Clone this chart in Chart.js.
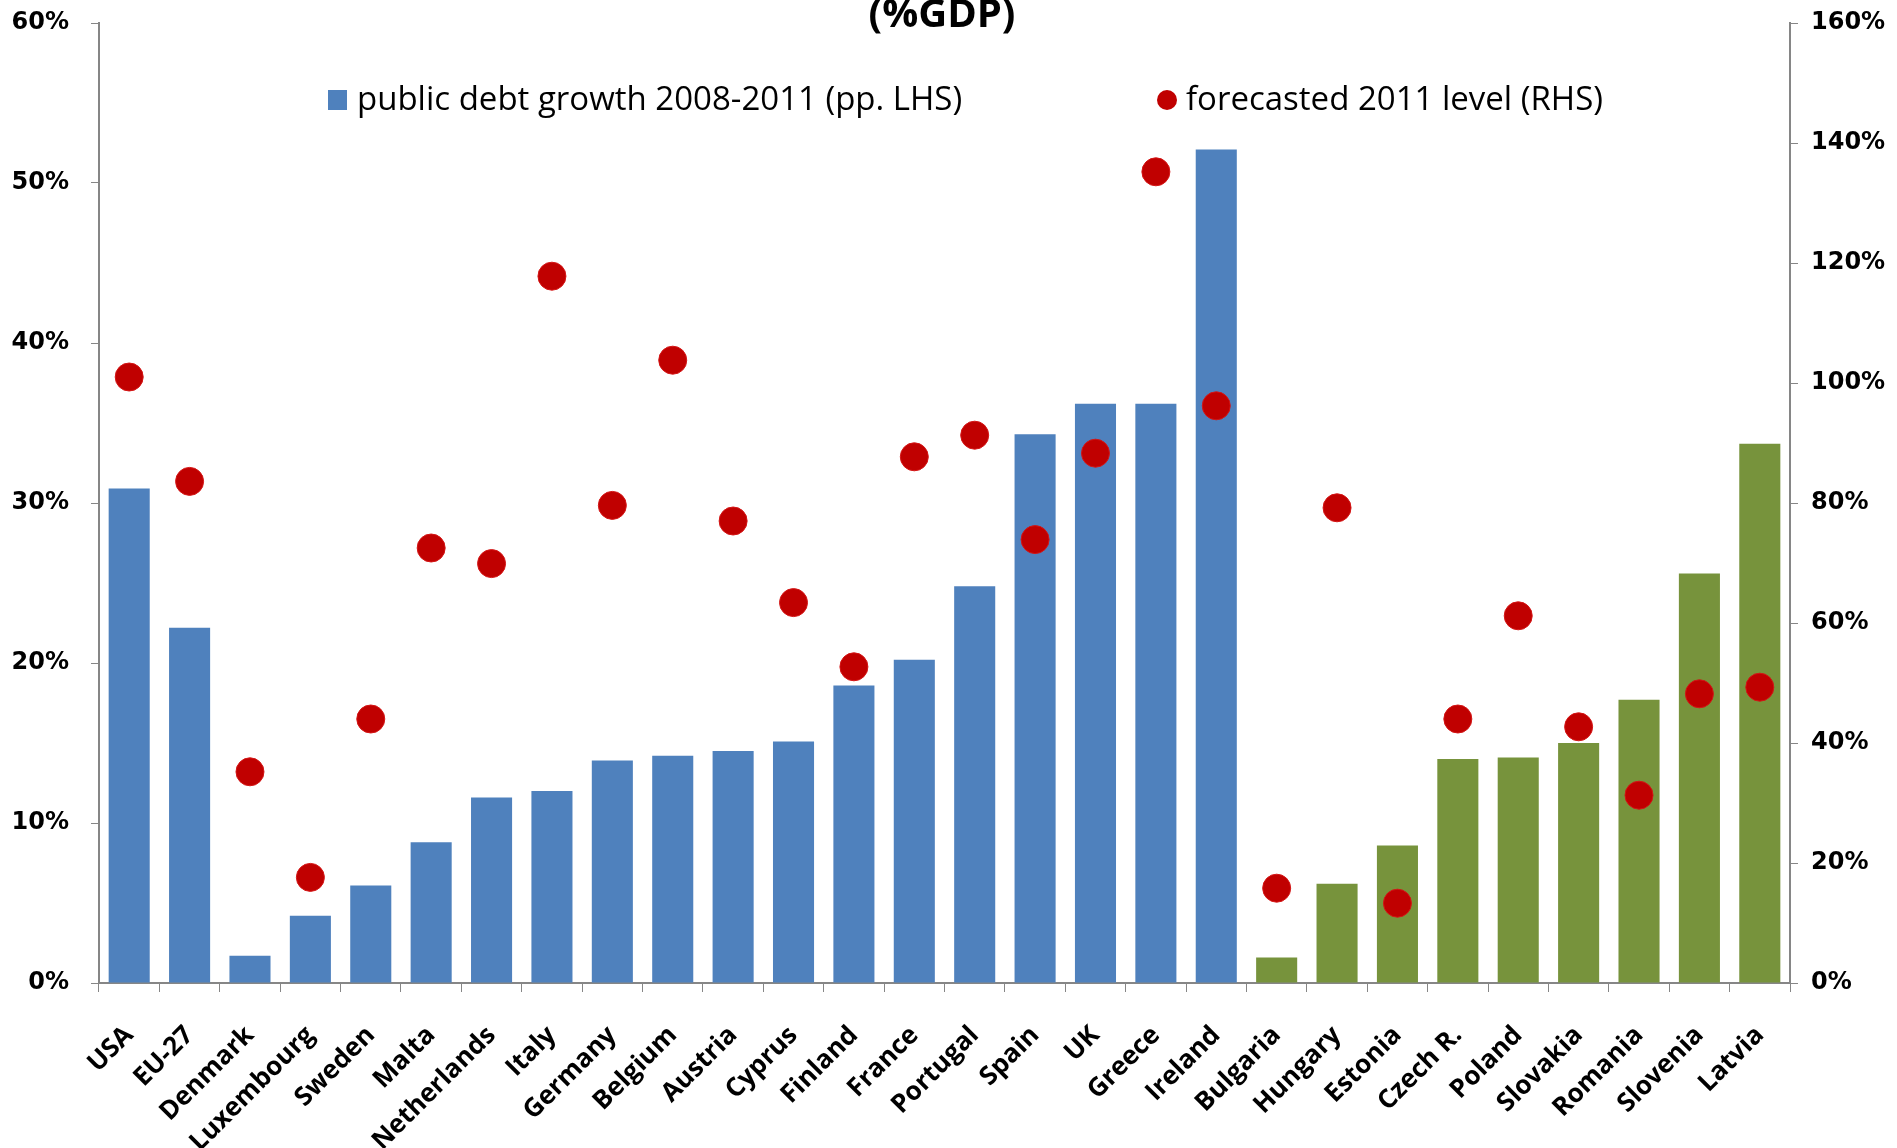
<!DOCTYPE html>
<html>
<head>
<meta charset="utf-8">
<script src="https://cdn.jsdelivr.net/npm/chart.js@4"></script>
<style>
  html, body { margin: 0; padding: 0; background: #fff; }
  #wrap { width: 1897px; height: 1148px; }
</style>
</head>
<body>
<div id="wrap"><canvas id="debtChart" width="1897" height="1148"></canvas></div>
<script>
// countries, old members first, newer member states (green) at the end
const countries = ['USA', 'EU-27', 'Denmark', 'Luxembourg', 'Sweden', 'Malta', 'Netherlands', 'Italy',
  'Germany', 'Belgium', 'Austria', 'Cyprus', 'Finland', 'France', 'Portugal', 'Spain', 'UK', 'Greece',
  'Ireland', 'Bulgaria', 'Hungary', 'Estonia', 'Czech R.', 'Poland', 'Slovakia', 'Romania', 'Slovenia', 'Latvia']
const newMembers = ['Bulgaria', 'Hungary', 'Estonia', 'Czech R.', 'Poland', 'Slovakia', 'Romania', 'Slovenia', 'Latvia']

// debt growth 2008-2011, pp. of GDP (left axis)
const debtGrowth = [30.9, 22.2, 1.7, 4.2, 6.1, 8.8, 11.6, 12.0, 13.9, 14.2, 14.5, 15.1, 18.6, 20.2, 24.8, 34.3,
  36.2, 36.2, 52.1, 1.6, 6.2, 8.6, 14.0, 14.1, 15.0, 17.7, 25.6, 33.7]
// forecast 2011 debt level, % of GDP (right axis)
const debtLevel2011 = [101.0, 83.6, 35.2, 17.6, 44.0, 72.5, 69.9, 117.8, 79.6, 103.8, 77.0, 63.4, 52.7, 87.7, 91.3,
  73.9, 88.3, 135.2, 96.2, 15.8, 79.2, 13.3, 44.0, 61.2, 42.7, 31.3, 48.2, 49.3]

const leftTicks = [0, 10, 20, 30, 40, 50, 60]
const rightTicks = [0, 20, 40, 60, 80, 100, 120, 140, 160]

const BLUE = '#4F81BD'
const GREEN = '#77933C'
const RED = '#C00000'
const AXIS = '#868686'

const tickFont = { family: 'DejaVu Sans', size: 24, weight: 'bold' }

// legend + heading drawn inside the plot, Excel style
const inPlotLegend = {
    id: 'inPlotLegend',
    afterDraw(chart) {
        const ctx = chart.ctx
        ctx.save()
        ctx.fillStyle = '#000'
        ctx.font = 'bold 40px "Open Sans"'
        ctx.textAlign = 'center'
        ctx.textBaseline = 'middle'
        ctx.fillText('(%GDP)', 942, 16)

        const ds = chart.data.datasets
        ctx.font = '33px "Open Sans"'
        ctx.textAlign = 'left'
        const y = 100
        ctx.fillStyle = BLUE
        ctx.fillRect(328, y - 10, 19, 20)
        ctx.fillStyle = '#000'
        ctx.fillText(ds[0].label, 357, y + 1)

        ctx.fillStyle = RED
        ctx.beginPath()
        ctx.arc(1167, y, 10, 0, Math.PI * 2)
        ctx.fill()
        ctx.fillStyle = '#000'
        ctx.fillText(ds[1].label, 1186, y + 1)
        ctx.restore()
    }
}

// pin the value axes so the plot box sits where it should
const fixY = w => s => { s.width = w; s.paddingTop = 0; s.paddingBottom = 0 }

const ctx = document.getElementById('debtChart').getContext('2d')
new Chart(ctx, {
    type: 'bar',
    data: {
        labels: countries,
        datasets: [{
            label: 'public debt growth 2008-2011 (pp. LHS)',
            data: debtGrowth,
            backgroundColor: countries.map(c => newMembers.includes(c) ? GREEN : BLUE),
            barPercentage: 0.68,
            categoryPercentage: 1,
            yAxisID: 'y',
            order: 2,
        }, {
            label: 'forecasted 2011 level (RHS)',
            type: 'line',
            data: debtLevel2011,
            showLine: false,
            pointStyle: 'circle',
            pointRadius: 14,
            pointBackgroundColor: RED,
            pointBorderColor: '#D41515',
            pointBorderWidth: 1,
            yAxisID: 'y1',
            order: 1,
        }]
    },
    options: {
        responsive: false,
        animation: false,
        layout: { padding: { top: 23, left: 0, right: 0, bottom: 0 } },
        plugins: {
            legend: { display: false },
            tooltip: { enabled: false },
        },
        scales: {
            x: {
                grid: { drawOnChartArea: false, color: AXIS, tickLength: 9, offset: true },
                border: { color: AXIS, width: 2 },
                ticks: {
                    color: '#000',
                    font: { family: 'Open Sans', size: 26, weight: 'bold' },
                    minRotation: 45, maxRotation: 45,
                    autoSkip: false,
                    padding: 28,
                },
                afterFit(s) { s.height = 165; s.paddingLeft = 0; s.paddingRight = 0 },
            },
            y: {
                position: 'left',
                min: 0, max: 60,
                afterBuildTicks(s) { s.ticks = leftTicks.map(v => ({ value: v })) },
                grid: { drawOnChartArea: false, color: AXIS, tickLength: 8 },
                border: { color: AXIS, width: 2 },
                ticks: { color: '#000', font: tickFont, padding: 22, callback: v => v + '%' },
                afterFit: fixY(99),
            },
            y1: {
                position: 'right',
                min: 0, max: 160,
                afterBuildTicks(s) { s.ticks = rightTicks.map(v => ({ value: v })) },
                grid: { drawOnChartArea: false, color: AXIS, tickLength: 8 },
                border: { color: AXIS, width: 2 },
                ticks: { color: '#000', font: tickFont, padding: 13, callback: v => v + '%' },
                afterFit: fixY(107),
            },
        },
    },
    plugins: [inPlotLegend],
})
</script>
</body>
</html>
